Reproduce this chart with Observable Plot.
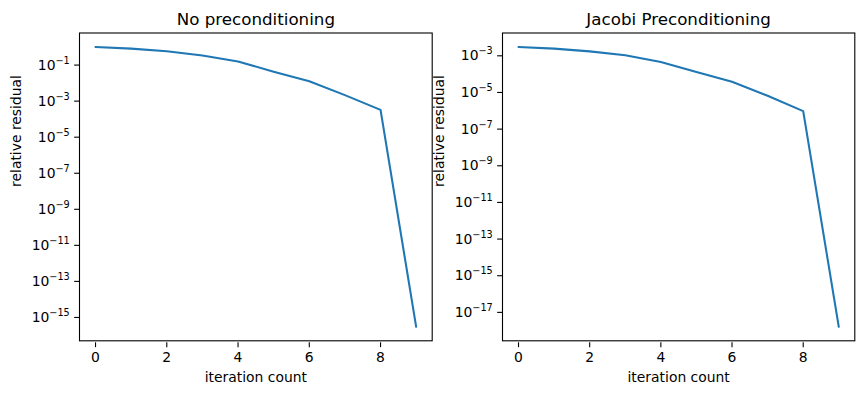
<!DOCTYPE html>
<html><head><meta charset="utf-8">
<script src="https://cdn.jsdelivr.net/npm/d3@7"></script>
<script src="https://cdn.jsdelivr.net/npm/@observablehq/plot@0.6"></script>
<style>
body{margin:0;background:#fff}
#chart{position:relative;width:863px;height:393px}
#chart svg{position:absolute;left:0;top:0;overflow:visible;background:transparent}
</style></head><body><div id="chart"></div>
<script>
const iterations = [0, 1, 2, 3, 4, 5, 6, 7, 8, 9];
const residualNoPrecond = [0.832, 0.676, 0.479, 0.282, 0.132, 0.0355, 0.0105, 1.78e-3, 2.69e-4, 2.5e-16];
const residualJacobi = [2.51e-3, 2.04e-3, 1.45e-3, 8.9e-4, 3.8e-4, 1.07e-4, 3.16e-5, 5.5e-6, 7.9e-7, 1.35e-18];
const xTicks = [0, 2, 4, 6, 8];
const yTicksNoPrecond = [1e-1, 1e-3, 1e-5, 1e-7, 1e-9, 1e-11, 1e-13, 1e-15];
const yTicksJacobi = [1e-3, 1e-5, 1e-7, 1e-9, 1e-11, 1e-13, 1e-15, 1e-17];
const titles = ["No preconditioning", "Jacobi Preconditioning"];
const xLabel = "iteration count";
const yLabel = "relative residual";

const W = 863, H = 393, TOP = 32.5, BOTTOM = 340.3;
const fnt = "DejaVu Sans, sans-serif";

function panel(values, yTicks, title, left, right) {
  const data = iterations.map((it, i) => ({it, r: values[i]}));
  const ex = d3.extent(iterations), px = 0.05 * (ex[1] - ex[0]);
  const ey = d3.extent(values, v => Math.log10(v)), py = 0.05 * (ey[1] - ey[0]);
  const svg = Plot.plot({
    width: W, height: H,
    marginLeft: left, marginRight: W - right, marginTop: TOP, marginBottom: H - BOTTOM,
    style: {fontFamily: fnt, fontSize: "13.9px", color: "black", background: "transparent", overflow: "visible"},
    x: {domain: [ex[0] - px, ex[1] + px]},
    y: {type: "log", domain: [10 ** (ey[0] - py), 10 ** (ey[1] + py)]},
    marks: [
      Plot.line(data, {x: "it", y: "r", stroke: "#1f77b4", strokeWidth: 2.08}),
      Plot.frame({stroke: "black", strokeWidth: 1.1}),
      Plot.axisX({ticks: xTicks, tickSize: 4.86, tickPadding: 4.86, strokeWidth: 1.1, label: null, dy: 2, fontSize: 13.9, fill: "black"}),
      Plot.axisY({ticks: yTicks, tickSize: 4.86, tickPadding: 4.86, strokeWidth: 1.1, label: null, dy: 1.5, fontSize: 13.9, fill: "black",
        tickFormat: d => "10^\u2212" + String(-Math.round(Math.log10(d)))}),
      Plot.text([title], {frameAnchor: "top", lineAnchor: "bottom", dy: -8.3, fontSize: 16.7, fill: "black", fontFamily: fnt}),
      Plot.text([xLabel], {frameAnchor: "bottom", lineAnchor: "bottom", dy: 41.2, fontSize: 13.9, fill: "black", fontFamily: fnt}),
      Plot.text([yLabel], {frameAnchor: "left", lineAnchor: "bottom", rotate: -90, dx: -58.2, fontSize: 13.9, fill: "black", fontFamily: fnt})
    ]
  });
  svg.querySelectorAll('g[aria-label="y-axis tick label"] text').forEach(t => {
    const s = t.textContent;
    const parts = s.split("^");
    if (parts.length !== 2) return;
    t.textContent = parts[0];
    const ts = document.createElementNS("http://www.w3.org/2000/svg", "tspan");
    ts.setAttribute("dy", "-6");
    ts.setAttribute("font-size", "9.7");
    ts.textContent = parts[1];
    t.appendChild(ts);
  });
  return svg;
}

const chart = document.getElementById("chart");
chart.appendChild(panel(residualNoPrecond, yTicksNoPrecond, titles[0], 79, 431.7));
chart.appendChild(panel(residualJacobi, yTicksJacobi, titles[1], 502, 854.3));
</script></body></html>
